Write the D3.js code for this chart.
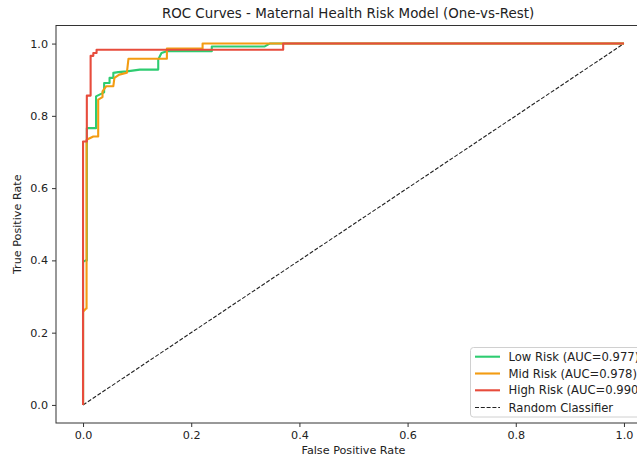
<!DOCTYPE html>
<html>
<head>
<meta charset="utf-8">
<script src="https://cdn.jsdelivr.net/npm/d3@7"></script>
<style>
  html, body { margin: 0; padding: 0; background: #fff; overflow: hidden; }
  text { font-family: "DejaVu Sans", sans-serif; fill: #222; }
</style>
</head>
<body>
<svg id="chart" width="637" height="459"></svg>
<script>
// ---- Data ----
const titleText = "ROC Curves - Maternal Health Risk Model (One-vs-Rest)";
const xLabel = "False Positive Rate";
const yLabel = "True Positive Rate";
const tickValues = [0.0, 0.2, 0.4, 0.6, 0.8, 1.0];

const lowRiskFpr = [0, 0, 0.005, 0.007, 0.007, 0.024, 0.024, 0.039, 0.039, 0.049, 0.049, 0.056, 0.056, 0.065, 0.081, 0.105, 0.139, 0.139, 0.145, 0.155, 0.238, 0.238, 0.336, 0.345, 1];
const lowRiskTpr = [0, 0.396, 0.40, 0.40, 0.766, 0.766, 0.854, 0.865, 0.891, 0.891, 0.905, 0.905, 0.919, 0.921, 0.923, 0.928, 0.928, 0.956, 0.974, 0.979, 0.979, 0.992, 0.992, 1, 1];

const midRiskFpr = [0, 0, 0.0055, 0.0065, 0.0065, 0.019, 0.028, 0.028, 0.036, 0.036, 0.043, 0.056, 0.058, 0.067, 0.081, 0.084, 0.155, 0.155, 0.221, 0.221, 1];
const midRiskTpr = [0, 0.258, 0.267, 0.267, 0.734, 0.743, 0.743, 0.845, 0.852, 0.868, 0.882, 0.882, 0.905, 0.914, 0.919, 0.958, 0.958, 0.986, 0.986, 1, 1];

const highRiskFpr = [0, 0, 0.007, 0.007, 0.014, 0.014, 0.019, 0.019, 0.025, 0.025, 0.37, 0.37, 1];
const highRiskTpr = [0, 0.729, 0.729, 0.856, 0.856, 0.966, 0.966, 0.974, 0.974, 0.983, 0.983, 1, 1];

const randomFpr = [0, 1];
const randomTpr = [0, 1];

const seriesNames = ["Low Risk (AUC=0.977)", "Mid Risk (AUC=0.978)", "High Risk (AUC=0.990)", "Random Classifier"];
const seriesColors = ["#2ecc71", "#f39c12", "#e74c3c", "#222222"];

// ---- Layout ----
const svg = d3.select("#chart");
const pLeft = 56, pRight = 651, pTop = 25.5, pBottom = 423;

const x = d3.scaleLinear().domain([-0.05, 1.05]).range([pLeft, pRight]);
const y = d3.scaleLinear().domain([-0.05, 1.05]).range([pBottom, pTop]);

svg.append("defs").append("clipPath").attr("id", "plotclip")
  .append("rect").attr("x", pLeft).attr("y", pTop).attr("width", pRight - pLeft).attr("height", pBottom - pTop);

const plot = svg.append("g").attr("clip-path", "url(#plotclip)");

const line = d3.line().x(d => x(d[0])).y(d => y(d[1]));
const zip = (a, b) => a.map((v, i) => [v, b[i]]);

plot.append("path").datum(zip(randomFpr, randomTpr))
  .attr("d", line).attr("fill", "none")
  .attr("stroke", seriesColors[3]).attr("stroke-width", 1.1)
  .attr("stroke-dasharray", "4,1.8");

const series = [
  [lowRiskFpr, lowRiskTpr],
  [midRiskFpr, midRiskTpr],
  [highRiskFpr, highRiskTpr]
];
series.forEach((s, i) => {
  plot.append("path").datum(zip(s[0], s[1]))
    .attr("d", line).attr("fill", "none")
    .attr("stroke", seriesColors[i]).attr("stroke-width", 2.1)
    .attr("stroke-linejoin", "round");
});

const xAxis = d3.axisBottom(x).tickValues(tickValues).tickFormat(d3.format(".1f")).tickSizeOuter(0).tickSize(4).tickPadding(4);
const yAxis = d3.axisLeft(y).tickValues(tickValues).tickFormat(d3.format(".1f")).tickSizeOuter(0).tickSize(4).tickPadding(4);

const gx = svg.append("g").attr("transform", `translate(0,${pBottom})`).call(xAxis);
const gy = svg.append("g").attr("transform", `translate(${pLeft},0)`).call(yAxis);
[gx, gy].forEach(g => {
  g.select(".domain").remove();
  g.selectAll(".tick line").attr("stroke", "#333").attr("stroke-width", 1);
  g.selectAll(".tick text").attr("font-family", "DejaVu Sans, sans-serif").attr("font-size", 11.2).attr("fill", "#222");
});

svg.append("rect").attr("x", pLeft).attr("y", pTop)
  .attr("width", pRight - pLeft).attr("height", pBottom - pTop)
  .attr("fill", "none").attr("stroke", "#333").attr("stroke-width", 1);

svg.append("text").attr("x", 348).attr("y", 18)
  .attr("text-anchor", "middle").attr("font-size", 13.4).text(titleText);
svg.append("text").attr("x", (pLeft + pRight) / 2).attr("y", 454)
  .attr("text-anchor", "middle").attr("font-size", 11.2).text(xLabel);
svg.append("text").attr("transform", `translate(21,${(pTop + pBottom) / 2}) rotate(-90)`)
  .attr("text-anchor", "middle").attr("font-size", 11.2).text(yLabel);

const lg = svg.append("g");
lg.append("rect").attr("x", 470.5).attr("y", 347.5).attr("width", 175).attr("height", 69.5)
  .attr("rx", 3).attr("fill", "#fff").attr("fill-opacity", 0.85)
  .attr("stroke", "#d0d0d0").attr("stroke-width", 1);
const rowY = [356.7, 373.5, 390.3, 407.5];
seriesNames.forEach((name, i) => {
  const ln = lg.append("line").attr("x1", 475).attr("x2", 500)
    .attr("y1", rowY[i]).attr("y2", rowY[i])
    .attr("stroke", seriesColors[i]).attr("stroke-width", i < 3 ? 2.1 : 1.1);
  if (i === 3) ln.attr("stroke-dasharray", "4,1.8");
  lg.append("text").attr("x", 508.5).attr("y", rowY[i]).attr("dy", "0.35em")
    .attr("font-size", 11.6).text(name);
});
</script>
</body>
</html>
